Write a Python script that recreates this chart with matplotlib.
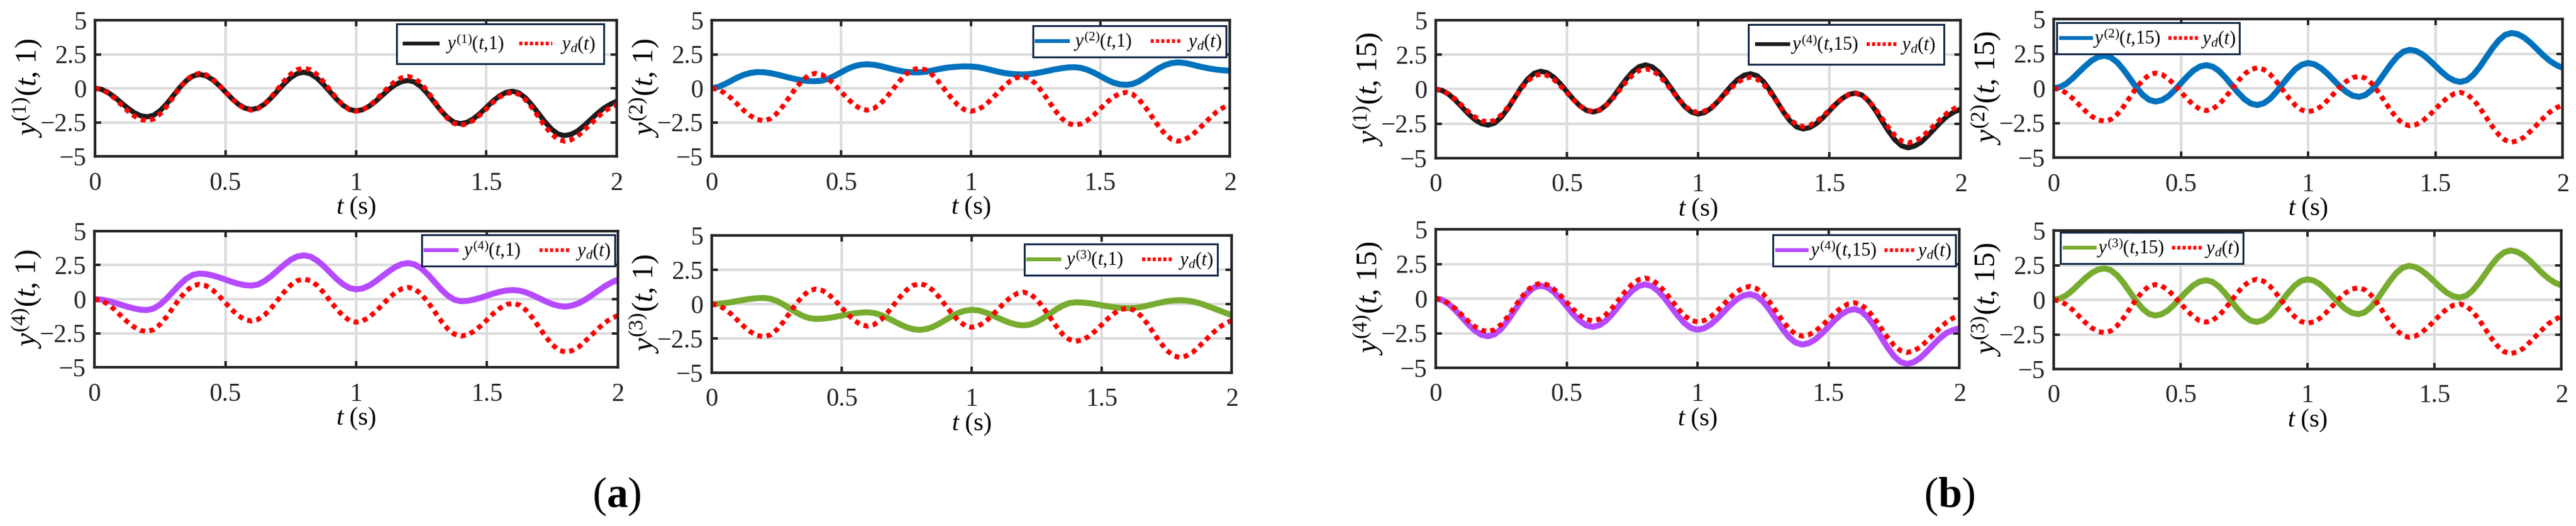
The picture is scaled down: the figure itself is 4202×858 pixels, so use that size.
import numpy as np
import matplotlib
matplotlib.use('Agg')
import matplotlib.pyplot as plt
from matplotlib.lines import Line2D

plt.rcParams['font.family'] = ['Liberation Serif', 'DejaVu Serif']
plt.rcParams['mathtext.fontset'] = 'custom'
plt.rcParams['mathtext.rm'] = 'Liberation Serif'
plt.rcParams['mathtext.it'] = 'Liberation Serif:italic'
plt.rcParams['mathtext.bf'] = 'Liberation Serif:bold'

# time samples (s), step 0.025
t = np.arange(81) * 0.025

# desired trajectory y_d(t)
yd = [0.00, -0.09, -0.35, -0.73, -1.19, -1.65, -2.03, -2.29, -2.38,
      -2.25, -1.87, -1.31, -0.64, 0.03, 0.59, 0.97, 1.10,
      1.00, 0.70, 0.26, -0.26, -0.77, -1.21, -1.51, -1.61,
      -1.49, -1.16, -0.66, -0.07, 0.53, 1.03, 1.36, 1.48,
      1.36, 1.02, 0.50, -0.11, -0.71, -1.23, -1.57, -1.69,
      -1.59, -1.32, -0.90, -0.41, 0.08, 0.50, 0.77, 0.87,
      0.73, 0.35, -0.24, -0.92, -1.61, -2.19, -2.57, -2.71,
      -2.62, -2.36, -1.97, -1.51, -1.04, -0.65, -0.39, -0.30,
      -0.44, -0.83, -1.41, -2.10, -2.78, -3.36, -3.75, -3.89,
      -3.78, -3.52, -3.08, -2.62, -2.15, -1.72, -1.42, -1.20]

# iteration 1
y1_k1 = [0.00, -0.08, -0.31, -0.65, -1.05, -1.45, -1.79, -2.02, -2.10,
         -1.98, -1.64, -1.14, -0.54, 0.06, 0.56, 0.90, 1.02,
         0.92, 0.64, 0.22, -0.27, -0.76, -1.18, -1.46, -1.56,
         -1.46, -1.16, -0.71, -0.19, 0.33, 0.78, 1.08, 1.18,
         1.07, 0.76, 0.30, -0.24, -0.78, -1.24, -1.55, -1.66,
         -1.58, -1.33, -0.97, -0.54, -0.11, 0.25, 0.49, 0.58,
         0.46, 0.11, -0.40, -1.01, -1.62, -2.13, -2.48, -2.60,
         -2.51, -2.25, -1.87, -1.41, -0.95, -0.57, -0.31, -0.22,
         -0.34, -0.70, -1.23, -1.85, -2.47, -3.00, -3.36, -3.48,
         -3.38, -3.14, -2.74, -2.30, -1.86, -1.47, -1.18, -0.95]

y2_k1 = [0.00, 0.10, 0.30, 0.55, 0.80, 1.00, 1.13, 1.19, 1.18,
         1.12, 1.02, 0.90, 0.78, 0.67, 0.58, 0.53, 0.52,
         0.56, 0.70, 0.92, 1.18, 1.43, 1.62, 1.73, 1.76,
         1.73, 1.64, 1.52, 1.40, 1.29, 1.21, 1.17, 1.17,
         1.21, 1.30, 1.40, 1.49, 1.55, 1.59, 1.61, 1.60,
         1.56, 1.47, 1.36, 1.24, 1.14, 1.07, 1.03, 1.02,
         1.04, 1.10, 1.19, 1.29, 1.39, 1.47, 1.53, 1.55,
         1.50, 1.36, 1.15, 0.90, 0.64, 0.42, 0.29, 0.25,
         0.32, 0.52, 0.82, 1.15, 1.46, 1.70, 1.85, 1.90,
         1.86, 1.76, 1.64, 1.53, 1.44, 1.37, 1.32, 1.29]

y4_k1 = [0.00, -0.03, -0.12, -0.25, -0.40, -0.55, -0.68, -0.77, -0.80,
         -0.70, -0.41, 0.03, 0.54, 1.05, 1.49, 1.78, 1.88,
         1.85, 1.75, 1.61, 1.44, 1.27, 1.13, 1.03, 1.00,
         1.08, 1.33, 1.69, 2.11, 2.53, 2.90, 3.14, 3.22,
         3.13, 2.85, 2.45, 1.97, 1.49, 1.09, 0.82, 0.72,
         0.79, 1.00, 1.32, 1.69, 2.05, 2.37, 2.58, 2.65,
         2.54, 2.24, 1.79, 1.25, 0.71, 0.26, -0.04, -0.15,
         -0.12, -0.03, 0.10, 0.26, 0.42, 0.55, 0.64, 0.67,
         0.62, 0.49, 0.29, 0.06, -0.17, -0.37, -0.50, -0.55,
         -0.47, -0.30, -0.04, 0.28, 0.62, 0.95, 1.22, 1.44]

y3_k1 = [0.00, 0.02, 0.07, 0.14, 0.23, 0.31, 0.38, 0.43, 0.45,
         0.39, 0.23, -0.02, -0.32, -0.61, -0.86, -1.02, -1.08,
         -1.06, -1.01, -0.93, -0.84, -0.75, -0.67, -0.62, -0.60,
         -0.65, -0.79, -1.00, -1.24, -1.48, -1.69, -1.83, -1.88,
         -1.82, -1.67, -1.43, -1.15, -0.87, -0.63, -0.48, -0.42,
         -0.46, -0.59, -0.77, -0.99, -1.20, -1.38, -1.51, -1.55,
         -1.49, -1.30, -1.03, -0.71, -0.39, -0.12, 0.07, 0.13,
         0.11, 0.07, 0.00, -0.09, -0.17, -0.24, -0.28, -0.30,
         -0.28, -0.22, -0.12, -0.01, 0.10, 0.20, 0.26, 0.28,
         0.26, 0.19, 0.07, -0.09, -0.27, -0.45, -0.63, -0.80]

# iteration 15
y1_k15 = [0.00, -0.10, -0.38, -0.80, -1.30, -1.80, -2.22, -2.50, -2.60,
          -2.45, -2.03, -1.40, -0.65, 0.10, 0.73, 1.15, 1.30,
          1.19, 0.87, 0.39, -0.18, -0.74, -1.22, -1.54, -1.65,
          -1.52, -1.15, -0.60, 0.06, 0.71, 1.26, 1.63, 1.76,
          1.62, 1.24, 0.66, -0.02, -0.70, -1.28, -1.66, -1.80,
          -1.69, -1.37, -0.90, -0.34, 0.22, 0.69, 1.01, 1.12,
          0.97, 0.53, -0.12, -0.88, -1.65, -2.29, -2.73, -2.88,
          -2.78, -2.50, -2.08, -1.58, -1.08, -0.66, -0.38, -0.28,
          -0.43, -0.86, -1.51, -2.27, -3.02, -3.67, -4.10, -4.25,
          -4.12, -3.84, -3.38, -2.88, -2.38, -1.95, -1.65, -1.45]

y2_k15 = [0.00, 0.09, 0.34, 0.73, 1.18, 1.62, 2.01, 2.26, 2.35,
          2.22, 1.87, 1.33, 0.70, 0.06, -0.48, -0.83, -0.96,
          -0.86, -0.58, -0.15, 0.36, 0.86, 1.29, 1.57, 1.67,
          1.56, 1.25, 0.78, 0.23, -0.32, -0.79, -1.10, -1.21,
          -1.09, -0.77, -0.27, 0.31, 0.88, 1.38, 1.70, 1.82,
          1.73, 1.46, 1.07, 0.60, 0.13, -0.26, -0.53, -0.62,
          -0.49, -0.12, 0.43, 1.08, 1.73, 2.28, 2.65, 2.78,
          2.69, 2.44, 2.06, 1.62, 1.18, 0.80, 0.55, 0.46,
          0.59, 0.98, 1.55, 2.23, 2.90, 3.47, 3.86, 3.99,
          3.90, 3.65, 3.27, 2.82, 2.37, 1.98, 1.68, 1.48]

y4_k15 = [0.00, -0.10, -0.40, -0.84, -1.36, -1.88, -2.32, -2.62, -2.72,
          -2.58, -2.19, -1.59, -0.90, -0.20, 0.40, 0.79, 0.93,
          0.82, 0.49, 0.01, -0.56, -1.13, -1.61, -1.94, -2.05,
          -1.93, -1.60, -1.10, -0.52, 0.07, 0.57, 0.90, 1.02,
          0.90, 0.54, 0.01, -0.62, -1.24, -1.77, -2.13, -2.25,
          -2.15, -1.87, -1.46, -0.97, -0.47, -0.06, 0.22, 0.32,
          0.18, -0.21, -0.80, -1.50, -2.20, -2.79, -3.18, -3.32,
          -3.22, -2.95, -2.53, -2.04, -1.55, -1.13, -0.86, -0.76,
          -0.91, -1.34, -1.98, -2.74, -3.50, -4.14, -4.57, -4.72,
          -4.60, -4.30, -3.85, -3.35, -2.88, -2.50, -2.28, -2.15]

y3_k15 = [0.00, 0.09, 0.33, 0.70, 1.14, 1.57, 1.94, 2.18, 2.27,
          2.14, 1.77, 1.22, 0.57, -0.09, -0.64, -1.01, -1.14,
          -1.04, -0.77, -0.35, 0.14, 0.62, 1.04, 1.31, 1.41,
          1.30, 0.97, 0.48, -0.10, -0.67, -1.16, -1.49, -1.60,
          -1.48, -1.15, -0.65, -0.06, 0.53, 1.03, 1.36, 1.48,
          1.38, 1.11, 0.70, 0.22, -0.26, -0.67, -0.94, -1.04,
          -0.91, -0.53, 0.04, 0.71, 1.37, 1.94, 2.32, 2.45,
          2.36, 2.11, 1.74, 1.31, 0.87, 0.50, 0.25, 0.16,
          0.29, 0.66, 1.21, 1.86, 2.51, 3.06, 3.43, 3.56,
          3.47, 3.22, 2.84, 2.38, 1.92, 1.53, 1.23, 1.04]

xticks = [0, 0.5, 1, 1.5, 2]
xtick_labels = ['0', '0.5', '1', '1.5', '2']
yticks = [-5, -2.5, 0, 2.5, 5]
ytick_labels = ['\u22125', '\u22122.5', '0', '2.5', '5']

W, H = 4202, 858
DARK = '#262626'
RED = '#ff0000'

fig = plt.figure(figsize=(W / 100, H / 100), dpi=100)


def add_panel(box, y, color, lw, ylab, leglab, corner, loc, lp):
    x0, x1, y0, y1 = box
    ax = fig.add_axes([x0 / W, 1 - y1 / H, (x1 - x0) / W, (y1 - y0) / H])
    ax.plot(t, y, color=color, lw=lw, solid_joinstyle='round')
    ax.plot(t, yd, color=RED, lw=5.8, linestyle=(0, (1, 0.9)))
    ax.set_xlim(0, 2)
    ax.set_ylim(-5, 5)
    ax.set_xticks(xticks)
    ax.set_xticklabels(xtick_labels)
    ax.set_yticks(yticks)
    ax.set_yticklabels(ytick_labels)
    ax.set_axisbelow(True)
    ax.grid(True, color='#dcdcdc', lw=3)
    ax.tick_params(direction='in', length=7.5, width=2.9, color=DARK,
                   labelsize=30, labelcolor=DARK, top=True, right=True)
    ax.tick_params(axis='x', pad=18)
    ax.tick_params(axis='y', pad=10)
    for s in ax.spines.values():
        s.set_linewidth(3.1)
        s.set_color(DARK)

    ax.set_ylabel(ylab, fontsize=35, va='center')
    ax.yaxis.set_label_coords(-110 / (x1 - x0), 0.5)
    ax.set_xlabel(r'$t\ (\mathrm{s})$', fontsize=30, va='center')
    ax.xaxis.set_label_coords(0.5, -84 / (y1 - y0))

    h1 = Line2D([], [], color=color, lw=4.5)
    h2 = Line2D([], [], color=RED, lw=4.3, linestyle=(0, (0.85, 0.6)))
    anchor = ((corner[0] - x0) / (x1 - x0), (y1 - corner[1]) / (y1 - y0))
    leg = ax.legend([h1, h2], [leglab, r'$y_d(t)$'], ncol=2, loc=loc,
                    bbox_to_anchor=anchor, borderaxespad=0, fontsize=22,
                    fancybox=False, framealpha=1, edgecolor='#15294b', **lp)
    leg.get_frame().set_linewidth(2.2)
    return ax


big1 = dict(borderpad=0.45, handlelength=1.75, handletextpad=0.45, columnspacing=0.8)
big15 = dict(borderpad=0.45, handlelength=1.65, handletextpad=0.15, columnspacing=0.45)
small1 = dict(borderpad=0.22, handlelength=1.65, handletextpad=0.3, columnspacing=1.0)
small15 = dict(borderpad=0.22, handlelength=1.6, handletextpad=0.12, columnspacing=0.4)

# (a) iteration 1
add_panel((155, 1006, 33, 255), y1_k1, '#1c1c1c', 6, r'$y^{(1)}(t{,}\ 1)$',
          r'$y^{(1)}(t{,}1)$', (985, 39), 'upper right', big1)
add_panel((1161, 2006, 33, 255), y2_k1, '#0072bd', 7, r'$y^{(2)}(t{,}\ 1)$',
          r'$y^{(2)}(t{,}1)$', (2000, 42), 'upper right', small1)
add_panel((154, 1008, 377, 599), y4_k1, '#b54aff', 7, r'$y^{(4)}(t{,}\ 1)$',
          r'$y^{(4)}(t{,}1)$', (1003, 383), 'upper right', small1)
add_panel((1161, 2009, 384, 608), y3_k1, '#77ac30', 7, r'$y^{(3)}(t{,}\ 1)$',
          r'$y^{(3)}(t{,}1)$', (1986, 398), 'upper right', small1)

# (b) iteration 15
add_panel((2342, 3198, 33, 258), y1_k15, '#1c1c1c', 6, r'$y^{(1)}(t{,}\ 15)$',
          r'$y^{(4)}(t{,}15)$', (3171, 40), 'upper right', big15)
add_panel((3350, 4180, 31, 257), y2_k15, '#0072bd', 7, r'$y^{(2)}(t{,}\ 15)$',
          r'$y^{(2)}(t{,}15)$', (3355, 37), 'upper left', small15)
add_panel((2342, 3196, 374, 600), y4_k15, '#b54aff', 7, r'$y^{(4)}(t{,}\ 15)$',
          r'$y^{(4)}(t{,}15)$', (3190, 383), 'upper right', small15)
add_panel((3350, 4178, 376, 602), y3_k15, '#77ac30', 7, r'$y^{(3)}(t{,}\ 15)$',
          r'$y^{(3)}(t{,}15)$', (3361, 379), 'upper left', small15)

fig.text(1006 / W, 1 - 810 / H, r'$(\mathbf{a})$', fontsize=50, ha='center', va='center')
fig.text(3180 / W, 1 - 810 / H, r'$(\mathbf{b})$', fontsize=50, ha='center', va='center')

fig.savefig('out.png', dpi=100, facecolor='white')
